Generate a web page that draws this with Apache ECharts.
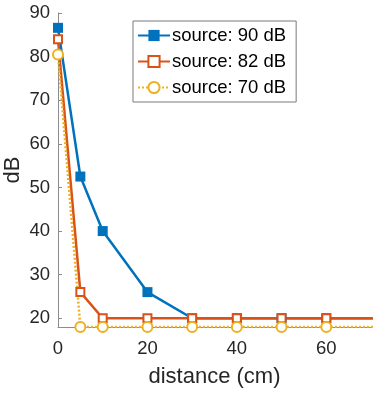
<!DOCTYPE html>
<html><head><meta charset="utf-8">
<script src="https://cdn.jsdelivr.net/npm/echarts@6/dist/echarts.min.js"></script>
<style>html,body{margin:0;padding:0;background:#fff}#c{width:373px;height:393px}</style>
</head><body><div id="c"></div>
<script>
const distances = [0, 5, 10, 20, 30, 40, 50, 60, 80];
const source90 = [86.6, 52.5, 40, 26, 20, 20, 20, 20, 20];
const source82 = [84, 26, 20, 20, 20, 20, 20, 20, 20];
const source70 = [80.5, 18, 18, 18, 18, 18, 18, 18, 18];
const seriesNames = ['source: 90 dB', 'source: 82 dB', 'source: 70 dB'];
const xTicks = [0, 20, 40, 60];
const yTicks = [20, 30, 40, 50, 60, 70, 80, 90];

const pair = arr => distances.map((d, i) => [d, arr[i]]);
const font = 'Liberation Sans, Arial, sans-serif';
const txt = '#262626';
const axisCol = '#8c8c8c';

const chart = echarts.init(document.getElementById('c'), null, {renderer: 'canvas'});
chart.setOption({
  animation: false,
  textStyle: {fontFamily: font},
  grid: {left: 58, top: 13, right: 2, bottom: 66, containLabel: false, outerBoundsMode: 'none'},
  legend: {
    orient: 'vertical', left: 133, top: 21,
    padding: [5, 10, 5, 4], itemGap: 7, itemWidth: 32, itemHeight: 14,
    borderColor: '#7a7a7a', borderWidth: 1, backgroundColor: '#fff',
    textStyle: {fontSize: 18.5, color: '#000', fontFamily: font, padding: [0, 0, 0, -3]},
    data: seriesNames
  },
  xAxis: {
    type: 'value', min: 0, max: 70,
    name: 'distance (cm)', nameLocation: 'middle', nameGap: 39, nameMoveOverlap: false,
    nameTextStyle: {fontSize: 22, color: txt, fontFamily: font},
    axisLine: {show: true, lineStyle: {color: axisCol, width: 1}},
    axisTick: {show: true, inside: true, length: 4, customValues: xTicks, lineStyle: {color: axisCol}},
    axisLabel: {fontSize: 18.5, color: txt, margin: 12, customValues: xTicks, fontFamily: font},
    splitLine: {show: false}
  },
  yAxis: {
    type: 'value', min: 18, max: 90,
    name: 'dB', nameLocation: 'middle', nameGap: 34, nameRotate: 90, nameMoveOverlap: false,
    nameTextStyle: {fontSize: 22, color: txt, fontFamily: font},
    axisLine: {show: true, lineStyle: {color: axisCol, width: 1}},
    axisTick: {show: true, inside: true, length: 4, customValues: yTicks, lineStyle: {color: axisCol}},
    axisLabel: {fontSize: 18.5, color: txt, margin: 8, customValues: yTicks, fontFamily: font},
    splitLine: {show: false}
  },
  series: [
    {
      name: seriesNames[0], type: 'line', data: pair(source90), clip: true,
      symbol: 'rect', symbolSize: 10,
      lineStyle: {color: '#0072BD', width: 2.5},
      itemStyle: {color: '#0072BD'}
    },
    {
      name: seriesNames[1], type: 'line', data: pair(source82), clip: true,
      symbol: 'emptyRect', symbolSize: 8,
      lineStyle: {color: '#D95319', width: 2.5},
      itemStyle: {color: '#D95319', borderWidth: 3, borderColor: '#D95319'}
    },
    {
      name: seriesNames[2], type: 'line', data: pair(source70), clip: true,
      symbol: 'emptyCircle', symbolSize: 10,
      lineStyle: {color: '#EDB120', width: 2.5, type: [2, 2]},
      itemStyle: {color: '#EDB120', borderWidth: 2.5, borderColor: '#EDB120'}
    }
  ]
});
</script></body></html>
